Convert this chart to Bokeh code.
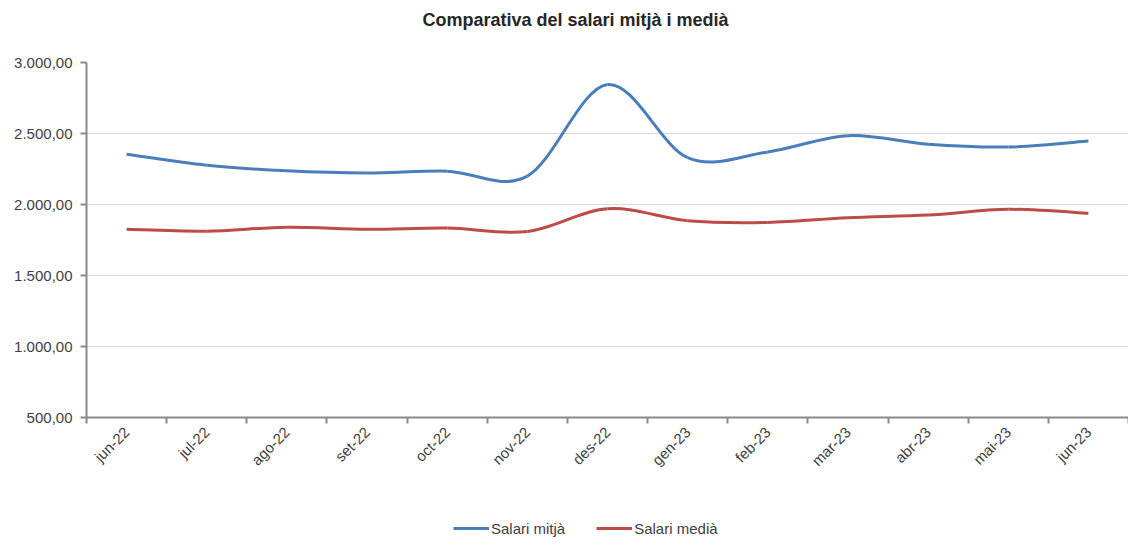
import numpy as np
from math import pi
from bokeh.plotting import figure
from bokeh.layouts import column
from bokeh.models import (Range1d, FixedTicker, CustomJSTickFormatter, Legend,
                          LegendItem, ColumnDataSource)
from bokeh.embed import file_html
from bokeh.resources import INLINE

months = ["jun-22", "jul-22", "ago-22", "set-22", "oct-22", "nov-22", "des-22",
          "gen-23", "feb-23", "mar-23", "abr-23", "mai-23", "jun-23"]
salari_mitja = [2354, 2277, 2237, 2222, 2235, 2200, 2845, 2330, 2370, 2485, 2424, 2405, 2447]
salari_media = [1825, 1812, 1840, 1825, 1834, 1810, 1970, 1886, 1874, 1907, 1926, 1966, 1938]
series_names = ["Salari mitjà", "Salari medià"]
y_ticks = [500, 1000, 1500, 2000, 2500, 3000]

FONT = "Liberation Sans"
AXIS_COLOR = "#898989"
TEXT_COLOR = "#404040"
COLORS = ["#4A7EBB", "#BE4B48"]


def smooth_source(vals):
    """Bezier segments (Catmull-Rom style) through the data points."""
    n = len(vals)
    x = np.arange(n) + 0.5
    y = np.asarray(vals, dtype=float)
    qx = np.concatenate([[x[0]], x, [x[-1]]])
    qy = np.concatenate([[y[0]], y, [y[-1]]])
    return ColumnDataSource(dict(
        x0=qx[1:n], y0=qy[1:n],
        x1=qx[2:n + 1], y1=qy[2:n + 1],
        cx0=qx[1:n] + (qx[2:n + 1] - qx[0:n - 1]) / 6.0,
        cy0=qy[1:n] + (qy[2:n + 1] - qy[0:n - 1]) / 6.0,
        cx1=qx[2:n + 1] - (qx[3:n + 2] - qx[1:n]) / 6.0,
        cy1=qy[2:n + 1] - (qy[3:n + 2] - qy[1:n]) / 6.0,
    ))


p = figure(width=1128, height=478, output_backend="svg", toolbar_location=None,
           x_range=Range1d(0, len(months)), y_range=Range1d(y_ticks[0], y_ticks[-1]),
           min_border_left=86, min_border_right=0, min_border_top=62,
           min_border_bottom=60)
p.outline_line_color = None
p.background_fill_color = "white"
p.border_fill_color = "white"

# title
p.title.text = "Comparativa del salari mitjà i medià"
p.title.align = "left"
p.title.offset = 336
p.title.text_font = FONT
p.title.text_font_size = "18px"
p.title.text_font_style = "bold"
p.title.text_color = "#262626"
p.title.standoff = 0
p.title.padding = (0, 0, 0, 33)

# lines
for vals, col in zip([salari_mitja, salari_media], COLORS):
    p.bezier(x0="x0", y0="y0", x1="x1", y1="y1", cx0="cx0", cy0="cy0",
             cx1="cx1", cy1="cy1", source=smooth_source(vals),
             line_color=col, line_width=3)

# x axis
xa = p.xaxis[0]
xa.ticker = FixedTicker(ticks=[i + 0.5 for i in range(len(months))],
                        minor_ticks=list(range(len(months) + 1)))
xa.formatter = CustomJSTickFormatter(args=dict(labels=months),
                                     code="return labels[Math.floor(tick)];")
xa.major_tick_line_color = None
xa.minor_tick_line_color = AXIS_COLOR
xa.minor_tick_line_width = 2
xa.minor_tick_out = 6
xa.minor_tick_in = 0
xa.axis_line_color = AXIS_COLOR
xa.axis_line_width = 2
xa.major_label_orientation = pi / 4
xa.major_label_standoff = 6
xa.major_label_text_font = FONT
xa.major_label_text_font_size = "15px"
xa.major_label_text_color = TEXT_COLOR

# y axis
ya = p.yaxis[0]
ya.ticker = FixedTicker(ticks=y_ticks)
ya.formatter = CustomJSTickFormatter(code="""
const parts = tick.toFixed(2).split('.');
const ip = parts[0].replace(/\\B(?=(\\d{3})+(?!\\d))/g, '.');
return ip + ',' + parts[1];
""")
ya.axis_line_color = AXIS_COLOR
ya.axis_line_width = 2
ya.major_tick_line_color = AXIS_COLOR
ya.major_tick_line_width = 2
ya.major_tick_out = 6
ya.major_tick_in = 0
ya.minor_tick_line_color = None
ya.major_label_standoff = 8
ya.major_label_text_font = FONT
ya.major_label_text_font_size = "15px"
ya.major_label_text_color = TEXT_COLOR

p.xgrid.grid_line_color = None
p.ygrid.ticker = FixedTicker(ticks=y_ticks)
p.ygrid.grid_line_color = "#D9D9D9"
p.ygrid.grid_line_width = 1

# legend strip below the chart (its lines hold the series but lie outside the view)
pl = figure(width=1128, height=62, output_backend="svg", toolbar_location=None,
            x_range=Range1d(0, 1), y_range=Range1d(0, 1),
            x_axis_location=None, y_axis_location=None,
            min_border_left=0, min_border_right=0, min_border_top=0,
            min_border_bottom=0)
pl.outline_line_color = None
pl.xgrid.grid_line_color = None
pl.ygrid.grid_line_color = None
items = []
for name, vals, col in zip(series_names, [salari_mitja, salari_media], COLORS):
    r = pl.line(x=list(np.arange(len(vals)) + 0.5), y=vals,
                line_color=col, line_width=3)
    items.append(LegendItem(label=name, renderers=[r]))
legend = Legend(items=items, orientation="horizontal", location=(367, 2),
                glyph_width=36, label_standoff=2, spacing=31, padding=3, margin=0,
                border_line_color=None, background_fill_alpha=0,
                label_text_font=FONT, label_text_font_size="15px",
                label_text_color=TEXT_COLOR)
pl.add_layout(legend, "center")

layout = column(p, pl, spacing=0)
open("out.html", "w").write(file_html(layout, INLINE))
